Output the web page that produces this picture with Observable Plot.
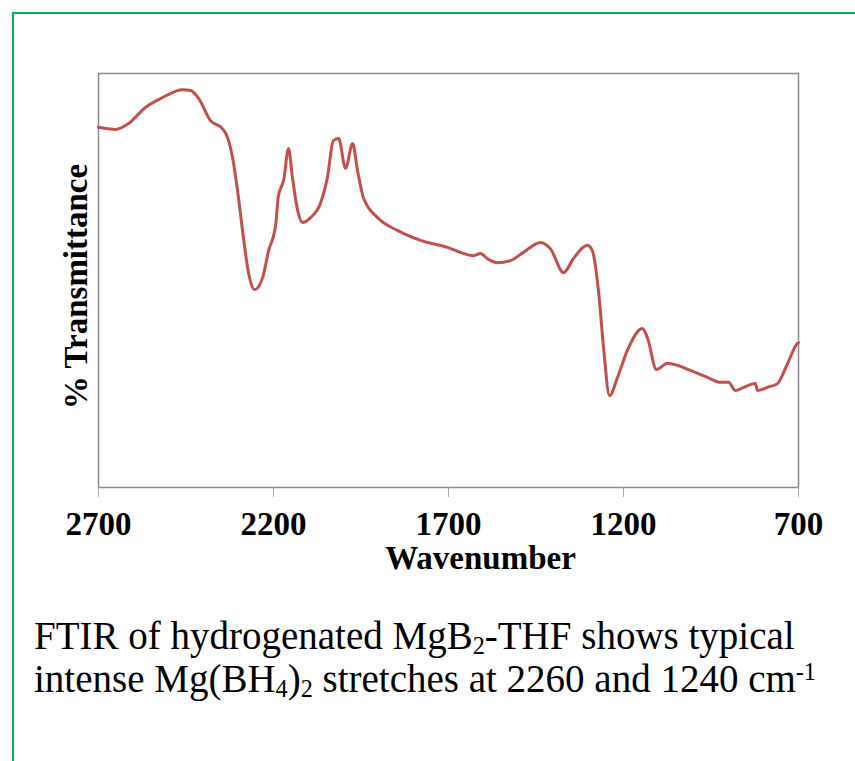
<!DOCTYPE html>
<html>
<head>
<meta charset="utf-8">
<script src="https://cdn.jsdelivr.net/npm/d3@7"></script>
<script src="https://cdn.jsdelivr.net/npm/@observablehq/plot@0.6"></script>
<style>
  html, body { margin: 0; padding: 0; background: #fff; }
  body { width: 855px; height: 761px; position: relative; overflow: hidden; }
  #border { position: absolute; left: 12px; top: 12px; width: 900px; height: 800px;
            border-left: 2px solid #00b050; border-top: 2px solid #00b050; box-sizing: border-box; }
  #chart { position: absolute; left: 0; top: 0; }
  #caption { position: absolute; left: 34px; top: 614px; font-family: "Liberation Serif", "Times New Roman", serif;
             font-size: 39px; line-height: 43px; color: #000; white-space: nowrap; }
  #caption sub, #caption sup { font-size: 0.62em; display: inline-block; line-height: 0.5em; }
  #caption sub { vertical-align: -0.22em; }
  #caption sup { vertical-align: 0.5em; }
</style>
</head>
<body>
<div id="border"></div>
<div id="chart"></div>
<div id="caption"></div>
<script>
// Wavenumber (cm-1) and % transmittance (relative, 0-100 of the frame)
const wavenumber = [2700, 2651, 2614, 2566, 2517, 2460, 2437, 2414, 2380, 2346, 2331, 2317, 2300, 2286, 2271, 2254,
  2231, 2214, 2194, 2186, 2171, 2157, 2146, 2131, 2117, 2094, 2066, 2046, 2029, 2014, 1994, 1974, 1960, 1943,
  1903, 1846, 1780, 1703, 1666, 1629, 1609, 1586, 1560, 1523, 1486, 1437, 1409, 1371, 1343, 1303, 1289, 1271,
  1257, 1240, 1217, 1189, 1146, 1131, 1106, 1074, 1046, 1009, 960, 923, 900, 880, 857, 823, 817, 789, 760, 731, 703, 700];
const transmittance = [87.0, 86.5, 87.9, 91.8, 94.2, 96.1, 95.9, 94.0, 88.6, 86.7, 84.5, 79.7, 70.0, 60.4, 51.7, 47.8,
  50.7, 57.2, 63.3, 70.5, 74.2, 81.9, 74.9, 66.9, 64.0, 65.2, 68.6, 74.9, 83.8, 84.3, 77.1, 83.1, 76.6, 70.0,
  65.2, 62.1, 59.7, 58.0, 56.8, 56.0, 56.5, 55.1, 54.3, 54.8, 56.8, 59.2, 57.7, 51.9, 55.3, 58.5, 57.2, 47.1,
  33.8, 22.2, 26.6, 33.1, 38.4, 36.0, 28.5, 30.0, 29.5, 28.3, 26.6, 25.4, 25.4, 23.4, 24.2, 25.1, 23.4, 24.2, 25.1, 30.0, 34.8, 35.0];
const xTicks = [2700, 2200, 1700, 1200, 700];
const xDomain = [2700, 700];
const yDomain = [0, 100];
const xLabel = ["Wavenumber"];
const yLabel = ["% Transmittance"];
const captionLines = [
  ["FTIR of hydrogenated MgB", {sub: "2"}, "-THF shows typical"],
  ["intense Mg(BH", {sub: "4"}, ")", {sub: "2"}, " stretches at 2260 and 1240 cm", {sup: "-1"}]
];

const data = wavenumber.map((w, i) => ({w, t: transmittance[i]}));

const plot = Plot.plot({
  width: 855,
  height: 600,
  marginLeft: 98,
  marginRight: 57,
  marginTop: 73,
  marginBottom: 113,
  style: {fontFamily: "'Liberation Serif', 'Times New Roman', serif", fontSize: "33px", fontWeight: "bold", background: "transparent", overflow: "visible", color: "#000"},
  x: {domain: xDomain},
  y: {domain: yDomain, axis: null},
  marks: [
    Plot.frame({stroke: "#8a8a8a", strokeWidth: 1.5}),
    Plot.axisX({ticks: xTicks, tickSize: 10, tickPadding: 14, tickFormat: d => String(d), label: null, stroke: "#aaa", fill: "#000"}),
    Plot.line(data, {x: "w", y: "t", stroke: "#c0504d", strokeWidth: 3, strokeLinejoin: "round", curve: "monotone-x"}),
    Plot.text(xLabel, {text: d => d, frameAnchor: "bottom", dx: 32, dy: 71, lineAnchor: "middle", fill: "#000"}),
    Plot.text(yLabel, {text: d => d, frameAnchor: "left", rotate: -90, dx: -22, dy: 6, textAnchor: "middle", lineAnchor: "middle", fill: "#000"})
  ]
});
document.getElementById("chart").appendChild(plot);

const cap = document.getElementById("caption");
captionLines.forEach((line, li) => {
  line.forEach(part => {
    if (typeof part === "string") cap.appendChild(document.createTextNode(part));
    else if (part.sub) { const e = document.createElement("sub"); e.textContent = part.sub; cap.appendChild(e); }
    else if (part.sup) { const e = document.createElement("sup"); e.textContent = part.sup; cap.appendChild(e); }
  });
  if (li < captionLines.length - 1) cap.appendChild(document.createElement("br"));
});
</script>
</body>
</html>
